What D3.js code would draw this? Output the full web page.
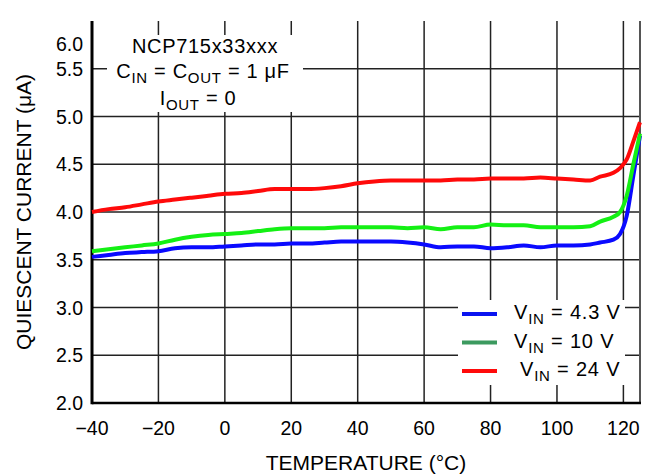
<!DOCTYPE html>
<html>
<head>
<meta charset="utf-8">
<script src="https://cdn.jsdelivr.net/npm/d3@7"></script>
<style>
  body { margin: 0; background: #fff; }
  svg { font-family: "Liberation Sans", Arial, Helvetica, sans-serif; }
</style>
</head>
<body>
<script>
var temps = [-40, -35, -30, -25, -20, -15, -10, -5, 0, 5, 10, 15, 20, 25, 30, 35, 40, 45, 50, 55,
             60, 65, 70, 75, 80, 85, 90, 95, 100, 105, 110, 113, 117, 119, 121, 123, 125]

// quiescent current (uA) per input voltage
var vin43 = [3.53, 3.55, 3.57, 3.58, 3.59, 3.62, 3.63, 3.63, 3.64, 3.65, 3.66, 3.66, 3.67, 3.67, 3.68, 3.69, 3.69, 3.69, 3.69, 3.68,
             3.66, 3.63, 3.64, 3.64, 3.62, 3.63, 3.65, 3.63, 3.65, 3.65, 3.66, 3.68, 3.71, 3.77, 3.96, 4.38, 4.80]
var vin10 = [3.59, 3.61, 3.63, 3.65, 3.67, 3.71, 3.74, 3.76, 3.77, 3.78, 3.80, 3.82, 3.83, 3.83, 3.83, 3.84, 3.84, 3.84, 3.84, 3.83,
             3.84, 3.82, 3.84, 3.84, 3.87, 3.86, 3.86, 3.84, 3.84, 3.84, 3.85, 3.90, 3.95, 4.00, 4.17, 4.50, 4.82]
var vin24 = [4.00, 4.03, 4.05, 4.08, 4.11, 4.13, 4.15, 4.17, 4.19, 4.20, 4.22, 4.24, 4.24, 4.24, 4.25, 4.27, 4.30, 4.32, 4.33, 4.33,
             4.33, 4.33, 4.34, 4.34, 4.35, 4.35, 4.35, 4.36, 4.35, 4.34, 4.33, 4.37, 4.41, 4.46, 4.55, 4.74, 4.94]

var xTicks = [-40, -20, 0, 20, 40, 60, 80, 100, 120]
var yTicks = [2.0, 2.5, 3.0, 3.5, 4.0, 4.5, 5.0, 5.5, 6.0]

var series = [
  {vals: vin43, color: "#0a0aff", label: "4.3 V", legendColor: "#0a14f0"},
  {vals: vin10, color: "#14f014", label: "10 V", legendColor: "#3c9a5f"},
  {vals: vin24, color: "#ff0a0a", label: "24 V", legendColor: "#ff0a0a"}
]

var W = 661, H = 476
var padL = 92, padR = 640, padB = 403, padT = 21

var svg = d3.select("body").append("svg").attr("width", W).attr("height", H)

var x = d3.scaleLinear().domain([-40, 125]).range([padL, padR])
var y = d3.scaleLinear().domain([2, 6]).range([padB, padT])

//grid
svg.append("g").selectAll("line").data(xTicks).enter().append("line")
  .attr("x1", d => x(d)).attr("x2", d => x(d)).attr("y1", padT).attr("y2", padB)
  .attr("stroke", "#222").attr("stroke-width", 1.5)
svg.append("g").selectAll("line").data(yTicks.slice(1, -1)).enter().append("line")
  .attr("x1", padL).attr("x2", padR).attr("y1", d => y(d)).attr("y2", d => y(d))
  .attr("stroke", "#222").attr("stroke-width", 1.5)

//frame (no top edge)
svg.append("line").attr("x1", padR).attr("x2", padR).attr("y1", padT).attr("y2", padB)
  .attr("stroke", "#555").attr("stroke-width", 2)
svg.append("line").attr("x1", padL).attr("x2", padR + 1).attr("y1", padB).attr("y2", padB)
  .attr("stroke", "#000").attr("stroke-width", 2.5)
svg.append("line").attr("x1", padL).attr("x2", padL).attr("y1", padT).attr("y2", padB + 1.2)
  .attr("stroke", "#000").attr("stroke-width", 3)

//curves
var line = d3.line()
  .x((d, i) => x(temps[i]))
  .y(d => y(d))
  .curve(d3.curveMonotoneX)

svg.append("g").selectAll("path").data(series).enter().append("path")
  .attr("d", d => line(d.vals))
  .attr("fill", "none")
  .attr("stroke", d => d.color)
  .attr("stroke-width", 4)
  .attr("stroke-linejoin", "round")

//tick labels
svg.append("g").selectAll("text").data(yTicks).enter().append("text")
  .attr("x", padL - 9)
  .attr("y", d => d == 6 ? 44 : y(d))
  .attr("dy", "0.36em")
  .attr("text-anchor", "end")
  .attr("font-size", 19.5)
  .text(d => d.toFixed(1))

svg.append("g").selectAll("text").data(xTicks).enter().append("text")
  .attr("x", d => x(d))
  .attr("y", 435)
  .attr("text-anchor", "middle")
  .attr("font-size", 19.5)
  .text(d => d < 0 ? "\u2212" + Math.abs(d) : d)

//axis titles
svg.append("text").attr("x", 366).attr("y", 470).attr("text-anchor", "middle")
  .attr("font-size", 21).text("TEMPERATURE (\u00B0C)")
svg.append("text").attr("transform", "translate(31,212) rotate(-90)")
  .attr("text-anchor", "middle").attr("font-size", 21)
  .text("QUIESCENT CURRENT (\u03BCA)")

//annotation box
svg.append("rect").attr("x", 107).attr("y", 35).attr("width", 196).attr("height", 77).attr("fill", "#fff")
var note = svg.append("g").attr("font-size", 20).attr("text-anchor", "middle").attr("letter-spacing", 0.7)
note.append("text").attr("x", 205).attr("y", 53).text("NCP715x33xxx")
var t2 = note.append("text").attr("x", 203).attr("y", 78)
t2.append("tspan").text("C")
t2.append("tspan").attr("font-size", 15).attr("dy", 5).text("IN")
t2.append("tspan").attr("dy", -5).text(" = C")
t2.append("tspan").attr("font-size", 15).attr("dy", 5).text("OUT")
t2.append("tspan").attr("dy", -5).text(" = 1 \u03BCF")
var t3 = note.append("text").attr("x", 198).attr("y", 105)
t3.append("tspan").text("I")
t3.append("tspan").attr("font-size", 15).attr("dy", 5).text("OUT")
t3.append("tspan").attr("dy", -5).text(" = 0")

//legend
svg.append("rect").attr("x", 458).attr("y", 300).attr("width", 167).attr("height", 85).attr("fill", "#fff")
var leg = svg.append("g").selectAll("g").data(series).enter().append("g")
  .attr("transform", (d, i) => "translate(0," + (319 + i * 28.5) + ")")
leg.append("line").attr("x1", 462).attr("x2", 497).attr("y1", -5).attr("y2", -5)
  .attr("stroke", d => d.legendColor).attr("stroke-width", 4)
var lt = leg.append("text").attr("x", (d, i) => i == 2 ? 520 : 514).attr("y", 0)
  .attr("font-size", 20).attr("letter-spacing", 0.8)
lt.append("tspan").text("V")
lt.append("tspan").attr("font-size", 15).attr("dy", 5).text("IN")
lt.append("tspan").attr("dy", -5).text(d => " = " + d.label)
</script>
</body>
</html>
